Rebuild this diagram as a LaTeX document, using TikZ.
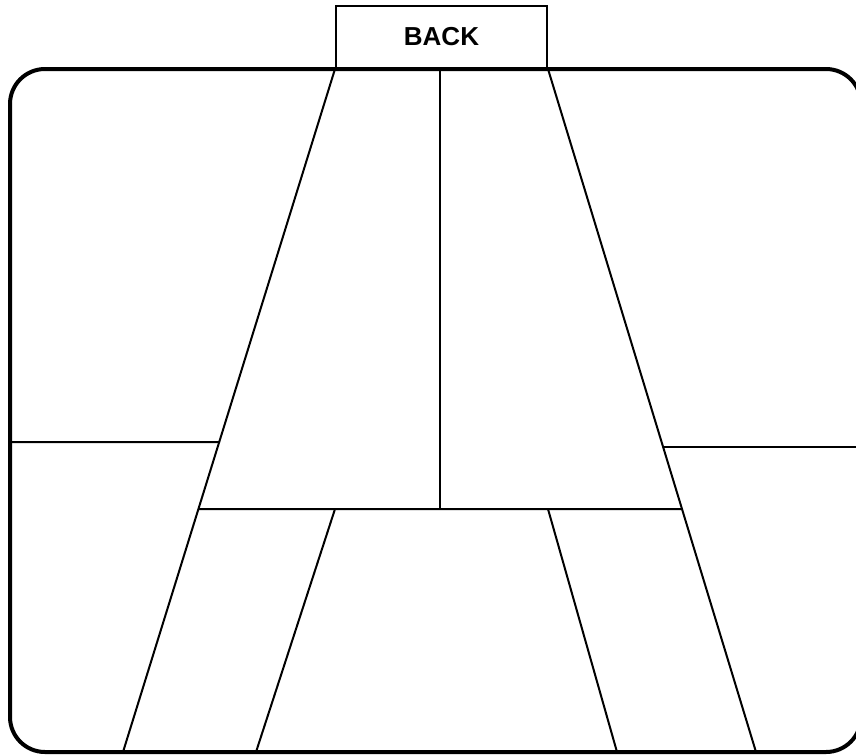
\documentclass[tikz,border=0pt]{standalone}
\usepackage{fontspec}
\setmainfont{Liberation Sans}
\begin{document}
\begin{tikzpicture}[x=1pt,y=-1pt,
  thinline/.style={line width=2pt},
  frame/.style={line width=4pt, rounded corners=35pt},
  backbox/.style={draw, line width=2pt, minimum width=211pt, minimum height=62pt, inner sep=0pt,
    font=\bfseries\fontsize{26}{30}\selectfont}]
\useasboundingbox (0,0) rectangle (856,755);
\fill[white] (0,0) rectangle (856,755);
\begin{scope}
\clip (0,0) rectangle (856,755);
\draw[frame] (10,69) rectangle (861,752);
\end{scope}
\node[backbox, anchor=south west] (back) at (335,69) {BACK};
% key points
\coordinate (tl) at (back.south west);
\coordinate (tr) at (back.south east);
\coordinate (bl) at (123,752);
\coordinate (br) at (756,752);
\coordinate (ibl) at (256,752);
\coordinate (ibr) at (617,752);
\coordinate (vt) at (440,69);
\coordinate (hl) at (intersection of tl--bl and 0,509--856,509);
\coordinate (hr) at (intersection of tr--br and 0,509--856,509);
\coordinate (hm) at (vt |- hl);
\coordinate (hil) at (tl |- hl);
\coordinate (hir) at (tr |- hl);
\coordinate (ll) at (10,442);
\coordinate (llx) at (intersection of tl--bl and 0,442--856,442);
\coordinate (rr) at (858,447);
\coordinate (rrx) at (intersection of tr--br and 0,447--856,447);
% lines
\draw[thinline] (tl) -- (bl);
\draw[thinline] (tr) -- (br);
\draw[thinline] (vt) -- (hm);
\draw[thinline] (hl) -- (hr);
\draw[thinline] (hil) -- (ibl);
\draw[thinline] (hir) -- (ibr);
\draw[thinline] (ll) -- (llx);
\draw[thinline] (rrx) -- (rr);
\end{tikzpicture}
\end{document}
